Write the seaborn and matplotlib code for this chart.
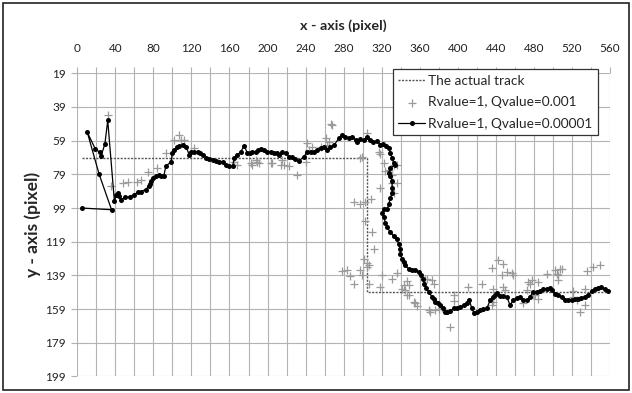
import numpy as np
import pandas as pd
import matplotlib
matplotlib.use("Agg")
import matplotlib.pyplot as plt
from matplotlib.patches import Rectangle
import seaborn as sns

# ---- data ----
track_x = [5, 305, 305, 558]
track_y = [69, 69, 149, 149]

q5_x = [5, 36, 23, 10.5, 19, 24, 25, 29, 32, 39,
        41, 43, 44, 46, 50, 55, 60, 64, 67, 72, 75, 76, 78, 80, 83, 86, 88, 91, 93, 98.5,
        100, 102, 105, 107, 110.8, 114.3, 117.7, 120, 123, 126.5, 129, 131.8, 135.2, 138.7,
        142.2, 145.7, 149.2, 152.7, 156.2, 159.7, 163.2, 164.9, 168.4, 171.9, 175.4, 178.9,
        182, 184.1, 187.6, 190, 192.9, 196.3, 199.8, 203.4, 206.8, 210.4, 212.1, 215.6,
        219.1, 222.6, 226.1, 229, 233.1, 238.3, 241.8, 245.3, 248.8, 252.3, 255.8, 259.3,
        262.8, 266, 270, 275, 278.5, 281.9, 285.4, 289, 292.5, 294.2, 297.7, 301.2, 304.7,
        308, 311, 315.2, 318.7, 321, 324, 327.4, 329.2, 330.9, 332.6, 334.3, 329.2, 327.4,
        329.2, 330.9, 330.9, 330.9, 329.2, 327.4, 325.7, 322.2, 320.4, 322.2, 323.9, 325.7,
        329.2, 332.6, 336.1, 337.8, 339.6, 339.6, 341.3, 343.1, 344.8, 348.3, 351.8, 355.3,
        358.8, 361.3, 363.4, 364.8, 367, 369.3, 372.8, 374.6, 376.3, 379, 381.6, 384, 386.8,
        389, 392, 395.5, 399, 402.5, 406, 409.5, 412, 414.8, 417.2, 420, 423.5, 427, 430.5,
        434, 437, 439.2, 441, 444.4, 447.9, 451.5, 454.9, 458.4, 462, 465.4, 468.9, 472.4,
        475.9, 479.3, 483, 486.4, 489.8, 493.4, 496.9, 498.6, 502.1, 505.5, 509.1, 512.6,
        516, 519.6, 523, 526.5, 530, 533.5, 537, 540.6, 544, 547.5, 551, 554.5, 558]
q5_y = [99, 100, 79, 54, 64, 66, 68, 61, 47, 95,
        91, 90, 92, 94, 92.5, 92.3, 91, 89.4, 89.2, 88, 86, 85, 83, 81, 80, 79.5, 79.8, 79.8, 74.3, 71.4,
        66.4, 64.5, 62.5, 62, 61.5, 62.5, 67.4, 66, 65.5, 66, 66.5, 67.4, 69.4, 70,
        70.4, 71, 71.9, 71.9, 73.3, 74.3, 74.3, 69.4, 67.4, 65.5, 62.1, 66.4,
        66.5, 66, 65.5, 64.8, 64, 64.7, 65.5, 65.5, 66.4, 66.4, 67.4, 66,
        66.4, 68.4, 68.8, 70, 71, 68.4, 65.5, 65.5, 65.5, 64.5, 63.5, 62.5,
        64.5, 63, 61.5, 57.6, 55.6, 56.6, 57.6, 56.6, 58.6, 59.6, 58.2, 58.6, 57,
        58.5, 60, 59, 61.5, 61, 62, 63.5, 66.4, 69.4, 72.3, 73.3, 75.2, 78.2,
        80.2, 83.1, 87, 90, 92.9, 96.8, 99.8, 99.8, 101.7, 104.6, 107.6, 110.5,
        113.5, 115.5, 117.4, 120.4, 123.3, 126.2, 129.2, 131.1, 133.1, 135, 135.5, 135.5,
        137, 138.6, 141, 143.9, 146.5, 148.8, 151.7, 152.7, 154.7, 155.5, 156.6, 158.5, 160.5,
        161, 160.2, 158.6, 158.2, 157.8, 156.5, 155.6, 153.7, 158.6, 161.5, 160.5, 159.6, 159.2, 158.6,
        153.7, 152, 150.8, 149.2, 151.1, 151.1, 151.7, 156.6, 153.7, 152.5, 151.7, 153.7, 153.7,
        151.7, 148.8, 148.6, 148.4, 146.8, 147, 146.4, 147.8, 149.8, 150.8, 151.7, 153.3,
        153.3, 153.3, 153, 152.7, 152.2, 151.7, 150.8, 148.4, 146.8, 146.2, 145.8, 147.2, 148.4]

q3_x = [32.5, 35.6, 47.9, 53.1, 62.5, 67.1, 74.5, 83.5, 93.3, 102, 107.2, 109, 112.5,
        123, 164.9, 168.4, 182.4, 184, 187.6, 189.4, 191.1, 203.4, 205, 213.8, 215.6, 217.3,
        222.6, 231.3, 240, 241.8, 243.5, 246.9, 255.8,
        261, 262.8, 264.5, 266.2, 268, 297.7, 299.5, 304.7, 316.9, 318.7, 322.2, 323.9, 327.4,
        330.9, 332.6, 336.1, 330.9, 336.1, 318.7, 332.6,
        290.7, 297.7, 302.9, 309, 302.9, 309.9, 311.6, 301.2, 304.7, 306.4,
        278.5, 283.7, 287.2, 290.7, 297.7, 299.5, 304.7, 306.4, 320.4, 318.7, 330.9, 336.1,
        341.4, 343.1, 346.6, 348.3, 344.9, 346.6, 348.3, 353.6, 355.3, 357.1,
        365.8, 367.6, 372.8, 374.6, 369.3, 371, 376.3, 379.8, 383.3, 395.5, 395.5, 392,
        411.2, 425.2, 435.7, 442.7, 447.9, 446.2, 451.5, 456.7, 458.4, 437.4, 447.9, 449.7,
        437.4, 435.7,
        468.9, 472.4, 474.1, 475.9, 477.7, 484.6, 479.3, 481.1, 484.6, 493.4, 502.1, 503.8,
        505.5, 507.3, 509.1, 505.5, 521.3, 521.3, 524.8, 528.3, 533.5, 533.5, 535.3, 542.3, 550]
q3_y = [43.5, 86.2, 84, 83.4, 83.4, 82.6, 77.7, 75.2, 66.6, 58.6, 55.9, 58.6, 58.6,
        63.5, 71.4, 73.3, 72.3, 73.3, 70.4, 71.4, 72.3, 72.3, 72.3, 73.3, 70.4, 73.3,
        74.3, 79.2, 71.4, 60.5, 64.5, 62.5, 62.5,
        57.6, 61.5, 59.6, 49.3, 49.8, 69.4, 68.4, 54.5, 65.5, 67, 72.3, 77.2, 76.2,
        79.2, 73.3, 73.3, 84, 84.1, 87, 90,
        95.3, 96.8, 95.3, 93.9, 106.6, 113.5, 123.3, 129.2, 131.6, 133.1,
        136.1, 135.5, 139.5, 143.9, 136, 139, 134.1, 143.9, 139, 145.8, 141, 137.5,
        146.8, 144.9, 142.5, 144.9, 147.8, 150.8, 150.8, 154.6, 155.6, 157.1,
        141, 141, 141.9, 143.9, 159.6, 160.5, 159.6, 159, 158.6, 150.8, 154, 169.4,
        145.6, 143.9, 134.5, 129.7, 132.1, 138.5, 137, 137.5, 139, 146.8, 145.8, 147.8,
        154.6, 156.6,
        155.6, 147.8, 142.9, 143.9, 141.9, 142.9, 150.8, 150.8, 152.7, 138, 135.5, 138,
        139, 135, 135, 141.5, 148.3, 151.7, 153.7, 160.5, 156.6, 146.8, 136.1, 134.1, 133]

x_ticks = list(range(0, 561, 20))
x_tick_labels = [str(v) if v % 40 == 0 else "" for v in x_ticks]
y_ticks = list(range(19, 200, 20))

labels = ["The actual track", "Rvalue=1, Qvalue=0.001", "Rvalue=1, Qvalue=0.00001"]

# ---- plot ----
sns.set_style("white")
plt.rcParams["font.family"] = ["Lato", "DejaVu Sans"]

fig = plt.figure(figsize=(6.32, 3.93), dpi=100)
ax = fig.add_axes([0.1223, 0.042, 0.9652 - 0.1223, 0.8135 - 0.042])

track = pd.DataFrame({"x": track_x, "y": track_y})
q5 = pd.DataFrame({"x": q5_x, "y": q5_y})
q3 = pd.DataFrame({"x": q3_x, "y": q3_y})

sns.lineplot(data=track, x="x", y="y", sort=False, estimator=None, ax=ax,
             color="#555555", linewidth=1.0, linestyle=(0, (1.5, 1)), label=labels[0], zorder=3)
sns.scatterplot(data=q3, x="x", y="y", ax=ax, marker="+", s=32, color="#9a9a9a",
                linewidth=0.9, label=labels[1], zorder=4)
sns.lineplot(data=q5, x="x", y="y", sort=False, estimator=None, ax=ax,
             color="black", linewidth=0.9, marker="o", markersize=3.6,
             markeredgewidth=0, label=labels[2], zorder=5)

ax.set_xlim(0, 560)
ax.set_ylim(199, 19)
ax.xaxis.tick_top()
ax.xaxis.set_label_position("top")
ax.set_xticks(x_ticks)
ax.set_xticklabels(x_tick_labels)
ax.set_yticks(y_ticks)
ax.tick_params(axis="both", which="both", direction="out", length=4, width=0.8,
               color="#b0b0b0", labelsize=8.5, labelcolor="#222222", pad=4)
ax.tick_params(axis="x", top=True, bottom=False, labeltop=True, labelbottom=False, pad=10)
ax.tick_params(axis="y", left=True, right=False)
ax.grid(True, color="#b3b3b3", linewidth=0.8)
ax.set_axisbelow(True)
for s in ax.spines.values():
    s.set_visible(False)

ax.set_xlabel("x - axis (pixel)", fontsize=10.4, fontweight="bold", labelpad=9)
ax.set_ylabel("y - axis (pixel)", fontsize=12.5, fontweight="bold", labelpad=3)

leg = ax.legend(loc="upper left", bbox_to_anchor=(0.592, 1.013), frameon=True, fancybox=False,
                fontsize=9.8, handlelength=2.0, borderpad=0.4, labelspacing=0.7,
                handletextpad=0.2, borderaxespad=0.0)
leg.get_frame().set_edgecolor("#333333")
leg.get_frame().set_linewidth(0.9)
leg.get_frame().set_facecolor("white")
leg.get_frame().set_alpha(1.0)

fig.patches.append(Rectangle((0.005, 0.007), 0.99, 0.986, transform=fig.transFigure,
                             fill=False, edgecolor="#222222", linewidth=1.2))

fig.savefig("out.png", dpi=100)
